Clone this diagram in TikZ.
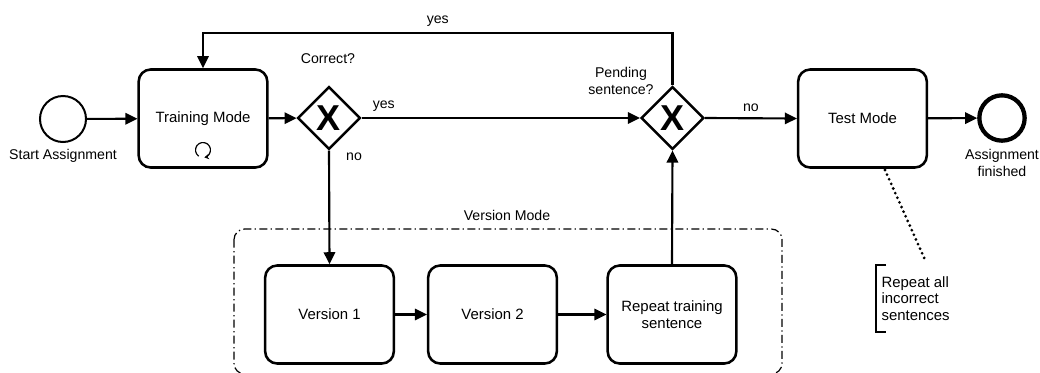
\documentclass[tikz,border=0pt]{standalone}
\usepackage{fontspec}
\setmainfont{Liberation Sans}
\usetikzlibrary{arrows.meta,shapes.geometric,calc}

\begin{document}
\begin{tikzpicture}[
  x=0.75pt, y=-0.75pt,
  font=\fontsize{11.2}{13}\selectfont,
  task/.style={draw, line width=1.9pt, rounded corners=9pt,
    minimum width=96.5pt, minimum height=73.5pt, align=center, inner sep=2pt},
  gateway/.style={draw, diamond, aspect=1, line width=1.8pt,
    minimum width=47pt, minimum height=47pt, inner sep=0pt},
  xmark/.style={font=\fontsize{27}{27}\selectfont\bfseries, inner sep=0pt},
  startev/.style={draw, circle, line width=1.5pt, minimum size=34.5pt, inner sep=0pt},
  endev/.style={draw, circle, line width=3.2pt, minimum size=34pt, inner sep=0pt},
  flow/.style={line width=1.6pt, -{Triangle[length=9pt,width=8.5pt]}},
  lbl/.style={font=\fontsize{10.6}{12.4}\selectfont, inner sep=1pt, align=center},
  assoc/.style={line width=2.3pt, dash pattern=on 0pt off 3.8pt, line cap=round},
  group/.style={draw, line width=0.9pt, rounded corners=8pt,
    dash pattern=on 6pt off 2.5pt on 1pt off 2.5pt},
]
\useasboundingbox (0,0) rectangle (1040,372);

% version mode group (open at the bottom edge)
\draw[group] (234,229) rectangle (782,374);
\node[lbl] (vmlabel) at (507,215) {Version Mode};

% events
\node[startev] (start) at (63,119) {};
\node[lbl, anchor=north] (startlbl) at (63,148) {Start Assignment};
\node[endev] (end) at (1002,118) {};
\node[lbl, anchor=north] (endlbl) at (1002,148) {Assignment\\finished};

% tasks
\node[task] (train) at (203,118.5) {Training Mode};
\node[task] (test) at (862.5,118.5) {Test Mode};
\node[task] (v1) at (329.5,314.5) {Version 1};
\node[task] (v2) at (492.5,314.5) {Version 2};
\node[task] (rep) at (672,314.5) {Repeat training\\sentence};

% loop marker of the training task
\coordinate (loopc) at (203,150);
\draw[line width=0.9pt, -{Stealth[length=3.5pt,width=4pt]}]
  (loopc) ++(125:7.5) arc[start angle=125, end angle=440, radius=7.5];

% gateways
\node[gateway] (g1) at (329,118) {};
\node[xmark] (g1x) at (g1) {X};
\node[gateway] (g2) at (672.5,118) {};
\node[xmark] (g2x) at (g2) {X};
\node[lbl] (g1q) at (328,59) {Correct?};
\node[lbl] (g2q) at (621,81) {Pending\\sentence?};

% sequence flows
\draw[flow] (start) -- (train);
\draw[flow] (train) -- (g1);
\draw[flow] (g1.east) -- node[lbl, pos=0.08, above=3pt] (yes1) {yes} (g2.west);
\draw[flow] (g1.south) -- (v1.north);
\node[lbl] (no1) at (354,157) {no};
\draw[flow] (v1) -- (v2);
\draw[flow] (v2) -- (rep);
\draw[flow] (rep.north) -- (g2.south);
\coordinate (backr) at (672.5,33);
\coordinate (backl) at (203,33);
\draw[flow] (g2.north) -- (backr) -- node[lbl, above=3pt] (yes2) {yes} (backl) -- (train.north);
\draw[flow] (g2.east) -- node[lbl, above=3pt] (no2) {no} (test.west);
\draw[flow] (test) -- (end);

% text annotation with its association
\node[lbl, anchor=west, align=left, font=\fontsize{11.2}{12.4}\selectfont]
  (note) at (880,298.5) {Repeat all\\incorrect\\sentences};
\coordinate (notetop) at (876,265);
\coordinate (notebot) at (876,332);
\draw[line width=1.8pt] ($(notetop)+(10,0)$) -- (notetop) -- (notebot) -- ($(notebot)+(10,0)$);
\coordinate (assocend) at (926,262);
\draw[assoc] (885,170) -- (assocend);
\end{tikzpicture}
\end{document}
